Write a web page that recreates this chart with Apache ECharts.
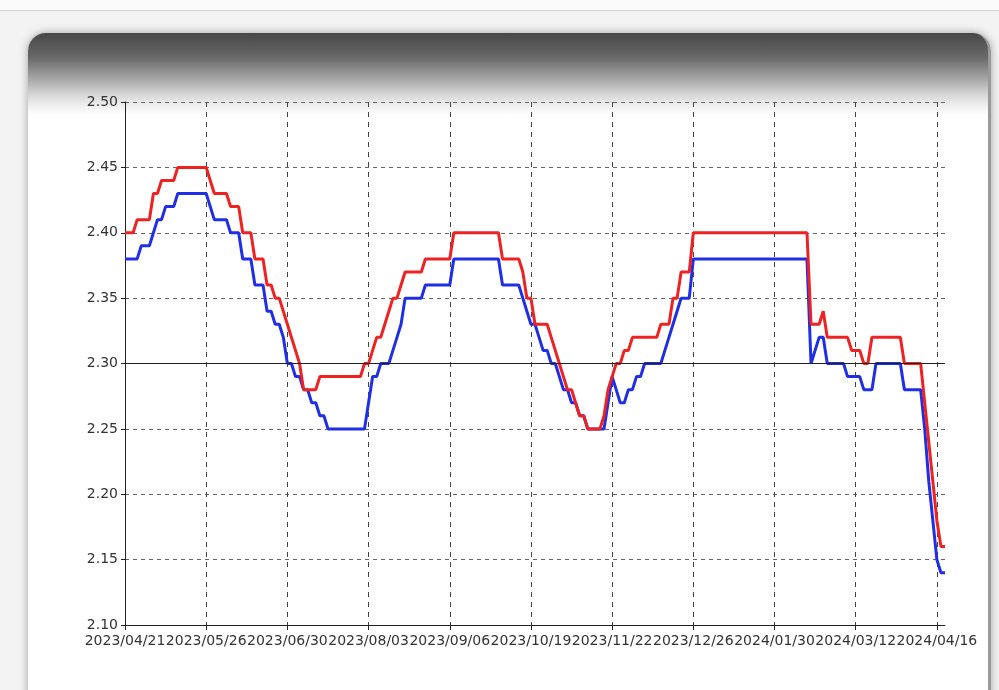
<!DOCTYPE html>
<html>
<head>
<meta charset="utf-8">
<script src="https://cdn.jsdelivr.net/npm/echarts@6/dist/echarts.min.js"></script>
<style>
  html, body { margin:0; padding:0; width:999px; height:690px; overflow:hidden; background:#f3f3f3; }
  #strip { position:absolute; left:0; top:0; width:999px; height:10px; background:#fbfbfb; border-bottom:1px solid #d6d6d6; }
  #panel { position:absolute; left:28px; top:33px; width:960px; height:700px; border-radius:18px 18px 0 0;
           background:linear-gradient(to bottom, #474747 0px, #6a6a6a 25px, #a4a4a4 45px, #d2d2d2 60px, #ececec 71px, #ffffff 82px);
           box-shadow:0 0 8px rgba(0,0,0,0.35); border-right:3px solid #9a9a9a; }
  #chart { position:absolute; left:0; top:0; width:999px; height:690px; }
</style>
</head>
<body>
<div id="strip"></div>
<div id="panel"></div>
<div id="chart"></div>
<script>
// x tick labels (one every 20 steps)
const tickLabels = ['2023/04/21','2023/05/26','2023/06/30','2023/08/03','2023/09/06','2023/10/19','2023/11/22','2023/12/26','2024/01/30','2024/03/12','2024/04/16'];
const stepsPerLabel = 20;

const redValues = [
  2.40,2.40,2.40,2.41,2.41,2.41,2.41,2.43,2.43,2.44,
  2.44,2.44,2.44,2.45,2.45,2.45,2.45,2.45,2.45,2.45,
  2.45,2.44,2.43,2.43,2.43,2.43,2.42,2.42,2.42,2.40,
  2.40,2.40,2.38,2.38,2.38,2.36,2.36,2.35,2.35,2.34,
  2.33,2.32,2.31,2.30,2.28,2.28,2.28,2.28,2.29,2.29,
  2.29,2.29,2.29,2.29,2.29,2.29,2.29,2.29,2.29,2.30,
  2.30,2.31,2.32,2.32,2.33,2.34,2.35,2.35,2.36,2.37,
  2.37,2.37,2.37,2.37,2.38,2.38,2.38,2.38,2.38,2.38,
  2.38,2.40,2.40,2.40,2.40,2.40,2.40,2.40,2.40,2.40,
  2.40,2.40,2.40,2.38,2.38,2.38,2.38,2.38,2.37,2.35,
  2.35,2.33,2.33,2.33,2.33,2.32,2.31,2.30,2.29,2.28,
  2.28,2.27,2.26,2.26,2.25,2.25,2.25,2.25,2.26,2.28,
  2.29,2.30,2.30,2.31,2.31,2.32,2.32,2.32,2.32,2.32,
  2.32,2.32,2.33,2.33,2.33,2.35,2.35,2.37,2.37,2.37,
  2.40,2.40,2.40,2.40,2.40,2.40,2.40,2.40,2.40,2.40,
  2.40,2.40,2.40,2.40,2.40,2.40,2.40,2.40,2.40,2.40,
  2.40,2.40,2.40,2.40,2.40,2.40,2.40,2.40,2.40,2.33,
  2.33,2.33,2.34,2.32,2.32,2.32,2.32,2.32,2.32,2.31,
  2.31,2.31,2.30,2.30,2.32,2.32,2.32,2.32,2.32,2.32,
  2.32,2.32,2.30,2.30,2.30,2.30,2.30,2.27,2.24,2.21,
  2.18,2.16,2.16
];

const blueValues = [
  2.38,2.38,2.38,2.38,2.39,2.39,2.39,2.40,2.41,2.41,
  2.42,2.42,2.42,2.43,2.43,2.43,2.43,2.43,2.43,2.43,
  2.43,2.42,2.41,2.41,2.41,2.41,2.40,2.40,2.40,2.38,
  2.38,2.38,2.36,2.36,2.36,2.34,2.34,2.33,2.33,2.32,
  2.30,2.30,2.29,2.29,2.28,2.28,2.27,2.27,2.26,2.26,
  2.25,2.25,2.25,2.25,2.25,2.25,2.25,2.25,2.25,2.25,
  2.27,2.29,2.29,2.30,2.30,2.30,2.31,2.32,2.33,2.35,
  2.35,2.35,2.35,2.35,2.36,2.36,2.36,2.36,2.36,2.36,
  2.36,2.38,2.38,2.38,2.38,2.38,2.38,2.38,2.38,2.38,
  2.38,2.38,2.38,2.36,2.36,2.36,2.36,2.36,2.35,2.34,
  2.33,2.33,2.32,2.31,2.31,2.30,2.30,2.29,2.28,2.28,
  2.27,2.27,2.26,2.26,2.25,2.25,2.25,2.25,2.25,2.27,
  2.29,2.28,2.27,2.27,2.28,2.28,2.29,2.29,2.30,2.30,
  2.30,2.30,2.30,2.31,2.32,2.33,2.34,2.35,2.35,2.35,
  2.38,2.38,2.38,2.38,2.38,2.38,2.38,2.38,2.38,2.38,
  2.38,2.38,2.38,2.38,2.38,2.38,2.38,2.38,2.38,2.38,
  2.38,2.38,2.38,2.38,2.38,2.38,2.38,2.38,2.38,2.30,
  2.31,2.32,2.32,2.30,2.30,2.30,2.30,2.30,2.29,2.29,
  2.29,2.29,2.28,2.28,2.28,2.30,2.30,2.30,2.30,2.30,
  2.30,2.30,2.28,2.28,2.28,2.28,2.28,2.25,2.21,2.18,
  2.15,2.14,2.14
];

const referenceLevel = 2.30;
const yMin = 2.10, yMax = 2.50, yStep = 0.05;

const categories = redValues.map((_, i) => i);

const chart = echarts.init(document.getElementById('chart'), null, { renderer: 'canvas' });
const fontFamily = 'DejaVu Sans';
chart.setOption({
  animation: false,
  backgroundColor: 'transparent',
  grid: { left: 125, right: 54, top: 102, bottom: 65, containLabel: false },
  xAxis: {
    type: 'category',
    data: categories,
    boundaryGap: false,
    axisLine: { lineStyle: { color: '#222', width: 1 } },
    axisTick: { interval: stepsPerLabel - 1, length: 5, lineStyle: { color: '#222' } },
    axisLabel: {
      interval: stepsPerLabel - 1,
      formatter: (v, idx) => tickLabels[idx / stepsPerLabel] || '',
      color: '#333', fontFamily: fontFamily, fontSize: 14, margin: 9, hideOverlap: false
    },
    splitLine: { show: true, interval: stepsPerLabel - 1, lineStyle: { color: '#444', type: [5, 5], width: 1 } }
  },
  yAxis: {
    type: 'value',
    min: yMin, max: yMax, interval: yStep,
    axisLine: { show: true, lineStyle: { color: '#222', width: 1 } },
    axisTick: { show: true, length: 4, lineStyle: { color: '#222' } },
    axisLabel: { formatter: v => v.toFixed(2), color: '#333', fontFamily: fontFamily, fontSize: 14, margin: 7 },
    splitLine: { show: true, lineStyle: { color: '#666', type: [4, 4], width: 1 } }
  },
  series: [
    {
      name: 'blue', type: 'line', data: blueValues, showSymbol: false, symbol: 'none',
      lineStyle: { color: '#1f2fe6', width: 3 }, z: 3,
      markLine: {
        silent: true, symbol: 'none', label: { show: false },
        lineStyle: { color: '#222', type: 'solid', width: 1 },
        data: [{ yAxis: referenceLevel }]
      }
    },
    {
      name: 'red', type: 'line', data: redValues, showSymbol: false, symbol: 'none',
      lineStyle: { color: '#ee2222', width: 3 }, z: 4
    }
  ]
});
</script>
</body>
</html>
